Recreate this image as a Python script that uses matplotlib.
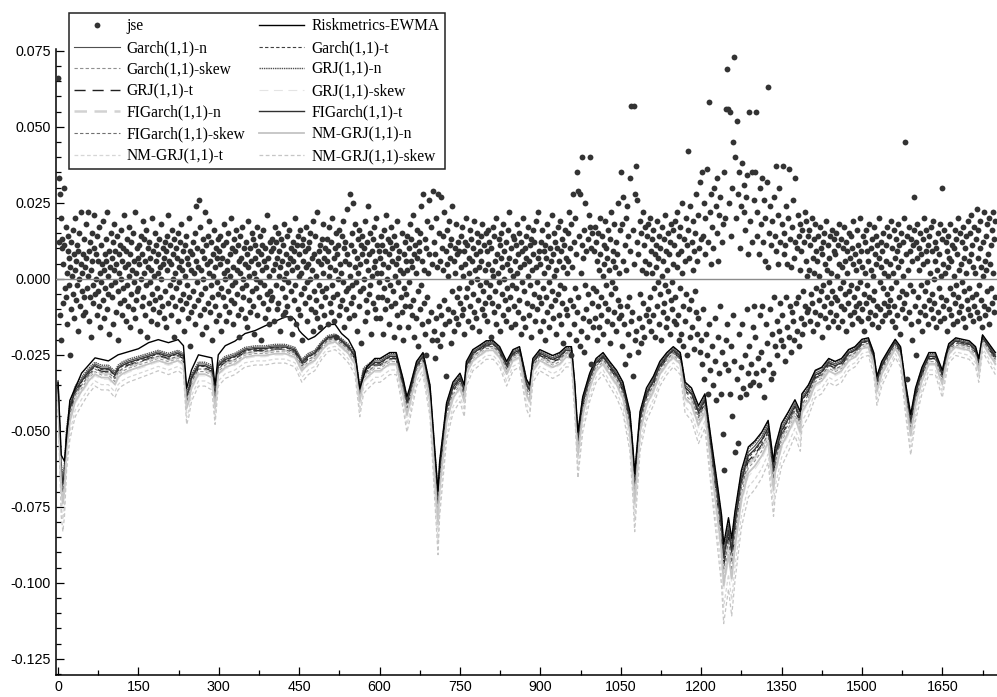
import numpy as np
import matplotlib
matplotlib.use("Agg")
import matplotlib.pyplot as plt
from matplotlib.ticker import MultipleLocator, FormatStrFormatter

plt.rcParams["axes.unicode_minus"] = False

# jse daily returns in units of 0.001, one block per 50 days
JSE_BLOCKS = [
    "66 12 33 -12 28 20 -20 10 13 5 -8 30 11 -3 17 -6 2 -15 9 14 -2 7 -25 4 12 -10 1 16 -5 8 -13 3 20 -7 6 11 -2 -17 9 0 15 -9 5 22 -4 2 -12 8 13 -6",
    "4 -11 18 7 -3 22 1 -14 9 -6 12 3 -19 6 15 -2 -8 10 21 -5 0 8 -12 14 -4 6 17 -9 2 -16 11 -1 5 -7 19 3 -13 8 -3 13 6 -10 22 1 -5 9 -18 4 15 -2",
    "7 -6 12 -15 3 18 -1 9 -11 5 14 -4 -20 8 2 11 -8 16 0 -12 6 10 -3 21 -7 4 -14 9 13 -2 -9 5 17 1 -16 8 -5 12 3 -10 15 -1 6 -13 22 2 -7 10 -4 7",
    "-3 11 5 -17 14 0 8 -9 19 -6 2 13 -12 6 -2 16 -19 4 10 -8 12 -1 7 -14 3 20 -5 9 -10 1 15 -7 6 11 -3 -15 8 2 13 -11 4 -6 18 0 -9 10 5 -13 7 12",
    "-4 9 -16 14 3 -8 21 6 -2 11 -12 5 16 -6 0 8 -19 13 2 -9 10 -3 7 15 -14 4 -1 12 -7 6 18 -10 3 9 -5 -17 11 1 -8 14 -2 7 -13 5 20 -6 -22 9 3 -11",
    "8 -4 12 -9 2 15 -15 6 24 -1 10 -7 4 26 -12 17 3 -5 9 -18 13 0 -10 7 22 -3 11 -16 5 14 -8 2 19 -11 6 -2 12 -6 -20 8 1 16 -9 4 -14 10 -1 7 13 -5",
    "9 -12 5 14 -3 -17 7 11 -6 2 18 -9 0 12 -14 6 3 -4 15 -11 8 1 -7 20 -2 10 -15 4 13 -8 -1 9 16 -5 3 -12 11 -19 6 2 14 -10 7 -3 17 0 -6 10 -13 5",
    "12 -2 -16 8 4 19 -7 1 10 -11 6 15 -4 -9 13 2 -18 7 11 -3 0 17 -12 5 9 -6 14 -1 -20 8 3 11 -8 16 -2 6 -13 10 4 -5 21 -10 7 1 -15 12 -4 9 -7 13",
    "-6 10 3 -14 17 5 -2 12 -10 7 15 -8 1 9 -17 4 13 -3 6 -12 11 0 18 -6 -11 8 2 14 -9 5 -1 16 -13 7 10 -4 3 -18 12 6 -7 9 20 -2 -15 11 4 -10 14 1",
    "8 -12 16 2 -5 11 -20 6 13 -3 9 -8 4 17 -1 -14 10 5 -6 12 0 15 -10 7 3 -17 19 -4 8 -11 14 1 -7 22 -13 6 9 -2 -16 11 5 -9 13 -4 18 2 -12 7 -6 10",
    "-3 13 6 -15 9 1 17 -8 4 -11 12 -2 20 -6 7 -14 10 3 -19 15 8 -5 11 0 -12 16 5 -9 2 14 -7 19 -1 10 -16 6 12 -4 -10 8 23 -3 5 -13 28 1 -8 11 -2 15",
    "25 -6 9 -12 4 18 -1 7 -17 13 2 -9 16 5 -4 11 -21 8 14 -3 10 0 -14 19 6 -7 12 -11 3 24 -5 8 15 -2 -18 9 1 13 -8 4 17 -10 6 20 -13 2 11 -6 9 -1",
    "7 -13 14 2 -6 11 -18 5 16 -3 9 -10 21 0 -7 13 4 -15 8 12 -2 17 -9 6 10 -4 -19 14 1 -8 11 5 -12 19 -1 7 -16 9 3 -6 42 -11 15 2 -20 8 -3 12 -9 6",
    "-5 14 3 -16 10 -1 18 -9 6 13 -12 4 21 -7 8 -19 11 2 -13 16 7 -4 -22 12 9 -10 15 -2 24 -15 6 28 -8 3 -18 13 -25 10 19 -6 2 -14 26 8 43 -11 17 -20 5 29",
    "55 -17 12 -26 8 20 -13 4 -20 28 -9 15 -22 6 27 -12 10 -18 3 14 -7 22 -15 9 -32 5 16 -10 1 19 -14 11 7 -21 13 -4 24 -11 6 -17 10 2 -13 18 -6 8 -15 12 -3 9",
    "-8 14 4 -12 17 1 -10 9 -18 12 5 -6 20 -3 11 -14 7 2 -9 16 -1 13 -16 6 10 -5 19 -11 3 8 -13 15 0 -7 12 4 -17 9 -2 14 6 -10 18 -4 -12 11 3 -8 15 -1",
    "9 -14 5 16 -6 12 -2 -19 10 3 -8 17 1 -11 14 6 -4 20 -15 8 2 -9 13 -1 11 -17 7 15 -5 4 -12 18 0 9 -7 -14 12 5 -3 16 -10 7 22 -6 3 -16 10 -2 14 1",
    "-9 13 6 -15 11 -3 18 2 -11 8 15 -7 4 -18 12 -1 9 -13 20 5 -4 10 -16 7 14 -8 1 17 -12 6 11 -2 -19 13 3 -9 16 8 -5 12 -14 4 19 -1 -10 7 22 -6 9 -17",
    "5 12 -8 16 -3 -14 9 2 -20 11 7 -6 18 -11 4 14 -1 -16 10 6 -9 21 -4 8 -13 15 1 -7 12 -18 3 10 -5 17 -12 6 -2 19 -15 9 13 -8 4 -21 11 -3 16 -10 7 2",
    "-12 15 6 -18 22 -7 10 -25 18 4 -9 28 -15 12 -3 20 -20 8 35 -11 29 -6 14 -22 28 2 -17 11 40 -13 7 -24 16 -2 25 -10 9 -19 13 -5 21 -14 40 17 -28 10 -8 15 -3 -16",
    "9 -13 17 -4 12 -20 6 15 -9 3 -16 20 8 -6 -12 14 1 -18 11 5 -8 19 -2 10 -14 7 16 -10 3 -21 13 -5 22 -1 -15 9 6 -11 18 -3 4 -17 12 8 -7 25 -13 2 16 -9",
    "35 -12 18 -22 6 27 -15 11 -28 20 3 -9 24 -18 14 -6 -25 9 33 -14 57 -11 16 -32 5 57 -20 28 37 -17 12 26 -24 8 -13 19 -5 -21 15 3 -16 22 -8 11 -19 6 17 -12 2 14",
    "-10 18 5 -14 20 -6 9 -17 13 2 -12 16 -3 8 -19 11 4 -9 19 -1 7 -15 14 -5 10 -20 17 1 -11 6 13 -8 21 -2 -16 9 3 -13 15 -4 8 -18 12 -7 18 -1 -10 5 16 -14",
    "11 -6 19 -15 4 22 -12 8 -20 14 -3 17 -18 9 2 25 -9 -22 13 6 -14 20 -5 11 -25 16 42 -10 7 -19 24 -7 12 -16 3 19 -23 9 -4 15 -11 28 -18 6 21 -13 10 32 -24 13",
    "-20 35 -28 14 -10 25 -33 8 20 -18 36 -25 12 -38 58 -15 22 -30 5 28 -22 17 -35 10 30 -13 -27 24 -40 15 33 -19 6 -31 21 -9 27 -38 12 -24 18 -51 -63 35 -28 20 56 -20 69 -15",
    "56 -30 25 -38 55 -22 14 -45 30 -12 45 -27 73 40 -57 20 -33 52 -54 28 -18 35 -39 10 24 -29 38 -15 -36 22 31 -25 16 -38 27 -10 34 -31 8 -22 55 -35 19 -28 12 35 -16 -34 26 -9",
    "35 -19 55 -31 14 22 -26 8 -35 30 -12 18 -24 33 -9 -30 12 26 -39 6 20 -15 32 -21 4 63 -28 15 -10 24 -33 11 19 -18 -31 27 -6 14 -22 9 37 -14 -25 21 5 -17 30 -8 12 -20",
    "18 -12 37 -22 8 15 -27 11 -6 24 -16 5 20 -19 36 -9 13 -24 4 17 -11 26 -14 7 -20 12 33 -8 -17 10 21 -6 14 -22 3 18 -13 9 -18 16 -4 12 -15 22 -9 6 19 -11 1 14",
    "-10 16 3 -14 11 -5 20 -8 7 -17 13 2 -11 18 -3 9 -15 6 14 -7 1 -12 17 -4 10 -19 8 12 -2 -9 15 5 -13 19 -6 3 -16 11 -1 7 -11 14 2 -8 16 -4 -14 9 13 -6",
    "8 -12 15 1 -7 11 -16 5 18 -3 -9 13 4 -14 10 -1 17 -10 6 -5 12 -17 2 9 -8 15 -4 -12 7 14 -2 10 -15 5 19 -6 -11 8 3 -9 16 -3 -13 11 6 -8 20 -1 -14 9",
    "4 -10 14 -5 -17 12 2 -8 16 -2 9 -13 6 18 -6 -11 10 3 -15 13 1 -7 17 -4 8 -12 14 5 -9 11 -16 7 20 -1 -10 12 4 -14 9 -3 15 -8 2 -12 11 6 -5 17 -9 1",
    "-11 14 5 -7 19 -3 -14 10 2 16 -9 7 -16 13 -1 9 -12 18 4 -6 11 -18 6 15 -4 -10 12 1 20 -8 45 -13 8 -5 14 -33 3 -11 17 -2 9 -15 13 6 -20 11 -4 16 27 -9",
    "12 -25 7 18 -6 -14 10 3 -11 15 -2 8 -17 13 5 -9 20 -4 -12 9 16 -1 6 -15 11 -7 14 2 -10 17 -5 9 -13 19 0 -8 12 6 -16 10 3 -11 15 -3 8 -14 18 1 -6 13",
    "30 -9 5 -13 16 2 -7 12 -17 9 4 14 -10 7 -3 18 -12 6 11 -5 -15 10 1 16 -8 -2 13 -14 8 20 -6 3 -11 15 5 -9 12 -1 -13 17 7 -4 10 -16 14 2 -7 19 -10 6",
    "-3 15 -12 8 21 -6 11 -14 4 17 -9 2 13 -5 23 -11 7 16 -2 -13 10 19 -7 4 -16 12 1 22 -9 6 -12 14 3 -4 18 -10 8 20 -15 5 11 -3 16 -8 2 22 -11 13 -6 19",
]

# centre of the VaR band (darker model lines), read at irregular days
var_x = [0, 3, 6, 9, 12, 16, 22, 32, 44, 57, 69, 81, 94, 106, 112, 119, 131, 150, 169, 187,
         206, 224, 234, 240, 244, 249, 262, 274, 287, 293, 299, 312, 330, 349, 368, 386, 405, 424, 442, 455,
         467, 479, 492, 504, 517, 529, 542, 554, 563, 570, 576, 591, 601, 619, 631, 644, 651, 656, 669, 681,
         694, 703, 709, 712, 725, 737, 750, 758, 762, 774, 787, 799, 812, 824, 837, 849, 861, 874, 880, 886,
         899, 911, 923, 936, 948, 958, 964, 970, 979, 992, 1004, 1017, 1029, 1042, 1054, 1067, 1073, 1076, 1086, 1098,
         1111, 1123, 1136, 1148, 1161, 1170, 1182, 1195, 1207, 1219, 1229, 1238, 1242, 1251, 1257, 1263, 1275, 1288, 1300, 1313,
         1325, 1335, 1338, 1350, 1363, 1375, 1385, 1388, 1400, 1413, 1425, 1438, 1450, 1462, 1475, 1487, 1500, 1512, 1522, 1528,
         1537, 1550, 1562, 1572, 1581, 1591, 1600, 1612, 1625, 1637, 1650, 1656, 1662, 1675, 1687, 1700, 1712, 1718, 1725, 1737,
         1749]
var_base = [-0.034, -0.048, -0.062, -0.066, -0.062, -0.050, -0.042, -0.036, -0.033, -0.030, -0.028, -0.029, -0.029, -0.031, -0.029, -0.028, -0.027, -0.026, -0.025, -0.024,
            -0.025, -0.024, -0.025, -0.038, -0.036, -0.032, -0.028, -0.028, -0.029, -0.038, -0.028, -0.026, -0.025, -0.023, -0.0225, -0.0225, -0.022, -0.022, -0.023, -0.027,
            -0.025, -0.024, -0.021, -0.019, -0.0185, -0.020, -0.022, -0.025, -0.036, -0.030, -0.029, -0.027, -0.027, -0.025, -0.025, -0.034, -0.040, -0.037, -0.028, -0.025,
            -0.036, -0.058, -0.072, -0.062, -0.042, -0.035, -0.032, -0.036, -0.028, -0.024, -0.0225, -0.021, -0.021, -0.023, -0.028, -0.024, -0.023, -0.034, -0.036, -0.027,
            -0.024, -0.025, -0.026, -0.025, -0.023, -0.023, -0.035, -0.052, -0.040, -0.032, -0.027, -0.025, -0.028, -0.031, -0.035, -0.045, -0.058, -0.066, -0.045, -0.037,
            -0.033, -0.028, -0.025, -0.023, -0.025, -0.035, -0.037, -0.043, -0.039, -0.055, -0.068, -0.080, -0.090, -0.081, -0.088, -0.079, -0.065, -0.057, -0.055, -0.052,
            -0.048, -0.062, -0.057, -0.049, -0.045, -0.041, -0.045, -0.039, -0.036, -0.031, -0.030, -0.027, -0.028, -0.027, -0.024, -0.023, -0.0205, -0.020, -0.025, -0.033,
            -0.028, -0.024, -0.0205, -0.023, -0.035, -0.046, -0.037, -0.030, -0.025, -0.025, -0.031, -0.026, -0.022, -0.020, -0.0205, -0.021, -0.023, -0.027, -0.019, -0.022,
            -0.025]

# Riskmetrics-EWMA sits above the band in the first part of the sample
rm_x = [0, 6, 12, 22, 44, 69, 94, 112, 131, 150, 169, 187, 206, 224, 234, 240, 249, 262, 287, 293,
        299, 312, 330, 349, 368, 386, 405, 424, 436, 442, 450, 455, 467, 479, 492, 504, 517, 529, 542, 554,
        563, 576]
rm_y = [-0.034, -0.058, -0.060, -0.040, -0.031, -0.026, -0.027, -0.025, -0.024, -0.023, -0.021, -0.020, -0.021, -0.020, -0.022, -0.036, -0.030, -0.025, -0.026, -0.035,
        -0.025, -0.022, -0.0205, -0.018, -0.017, -0.0155, -0.014, -0.0125, -0.0125, -0.0135, -0.017, -0.018, -0.020, -0.019, -0.017, -0.015, -0.015, -0.018, -0.020, -0.024,
        -0.036, -0.029]

models = ["Garch(1,1)-n", "Garch(1,1)-t", "Garch(1,1)-skew", "GRJ(1,1)-n", "GRJ(1,1)-t", "GRJ(1,1)-skew",
          "FIGarch(1,1)-n", "FIGarch(1,1)-t", "FIGarch(1,1)-skew", "NM-GRJ(1,1)-n", "NM-GRJ(1,1)-t", "NM-GRJ(1,1)-skew"]
# relative depth of each model's VaR against the band centre
model_level = [1.00, 1.03, 1.09, 0.98, 1.05, 1.14, 1.07, 1.02, 1.06, 1.12, 1.20, 1.26]

colors = ["#505050", "#404040", "#909090", "#505050", "#202020", "#e4e4e4",
          "#d2d2d2", "#303030", "#707070", "#c4c4c4", "#d6d6d6", "#c6c6c6"]
styles = ["-", (0, (3, 2)), (0, (3, 2)), (0, (1, 0.6)), (0, (8, 5)), (0, (8, 5)),
          (0, (5, 3)), "-", (0, (3, 2)), "-", (0, (3, 2)), (0, (3, 2))]
widths = [0.8, 0.8, 0.8, 1.0, 1.0, 0.8, 1.8, 1.0, 0.8, 1.3, 0.9, 0.9]

days, jse = [], []
for b, blk in enumerate(JSE_BLOCKS):
    vals = [int(v) / 1000 for v in blk.split()]
    days += [50 * b + i for i in range(len(vals))]
    jse += vals

var_x = np.array(var_x)
var_base = np.array(var_base)
late = var_x > rm_x[-1]
rm_all_x = np.concatenate([rm_x, var_x[late]])
rm_all_y = np.concatenate([rm_y, var_base[late] * 0.97])

fig = plt.figure(figsize=(9.97, 6.97), dpi=100)
ax = fig.add_axes([0.0559, 0.0316, 0.9441, 0.8977])

h_jse, = ax.plot(days, jse, "o", color="#333333", ms=4.2, mew=0, label="jse", zorder=3)
ax.axhline(0, color="#8c8c8c", lw=1.0, zorder=4)
h_rm, = ax.plot(rm_all_x, rm_all_y, "-", color="black", lw=1.0, label="Riskmetrics-EWMA", zorder=2.5)

handles = {}
for name, lev, c, ls, w in zip(models, model_level, colors, styles, widths):
    h, = ax.plot(var_x, var_base * lev, color=c, ls=ls, lw=w, label=name, zorder=2)
    handles[name] = h

ax.set_xlim(-4.3, 1752)
ax.set_ylim(-0.1303, 0.0755)
ax.xaxis.set_major_locator(MultipleLocator(150))
ax.xaxis.set_minor_locator(MultipleLocator(75))
ax.yaxis.set_major_locator(MultipleLocator(0.025))
ax.yaxis.set_minor_locator(MultipleLocator(0.005))
ax.yaxis.set_major_formatter(FormatStrFormatter("%.3f"))

for s in ["top", "right"]:
    ax.spines[s].set_visible(False)
for s in ["left", "bottom"]:
    ax.spines[s].set_linewidth(1.1)

ax.tick_params(which="major", direction="in", length=6, width=0.9, pad=3.5)
ax.tick_params(which="minor", direction="in", length=3.3, width=0.9)
ax.tick_params(axis="x", which="major", pad=3.5)
for lab in ax.get_xticklabels() + ax.get_yticklabels():
    lab.set_family("Liberation Sans")
    lab.set_fontsize(10.3)

order = [h_jse, handles["Garch(1,1)-n"], handles["Garch(1,1)-skew"], handles["GRJ(1,1)-t"],
         handles["FIGarch(1,1)-n"], handles["FIGarch(1,1)-skew"], handles["NM-GRJ(1,1)-t"],
         h_rm, handles["Garch(1,1)-t"], handles["GRJ(1,1)-n"], handles["GRJ(1,1)-skew"],
         handles["FIGarch(1,1)-t"], handles["NM-GRJ(1,1)-n"], handles["NM-GRJ(1,1)-skew"]]
leg = fig.legend(handles=order, labels=[h.get_label() for h in order], ncol=2,
                 loc="upper left", bbox_to_anchor=(69 / 997, 1 - 13 / 697),
                 prop={"family": "Liberation Serif", "size": 11.2},
                 frameon=True, fancybox=False, framealpha=1, edgecolor="#222222",
                 handlelength=2.9, handletextpad=0.45, columnspacing=0.9,
                 labelspacing=0.36, borderpad=0.35, borderaxespad=0)
leg.get_frame().set_linewidth(1.1)

fig.savefig("out.png", dpi=100)
